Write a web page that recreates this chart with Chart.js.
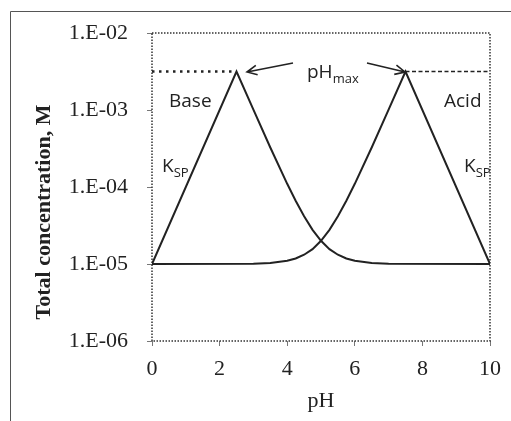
<!DOCTYPE html>
<html>
<head>
<meta charset="utf-8">
<script src="https://cdn.jsdelivr.net/npm/chart.js@4"></script>
<style>
  body { margin: 0; background: #fff; }
  canvas { display: block; }
</style>
</head>
<body>
<canvas id="myChart" width="511" height="421"></canvas>
<script>
// values
const basePH = [0, 2.5, 3, 3.5, 4, 4.25, 4.5, 4.75, 5, 5.25, 5.5, 5.75, 6, 6.5, 7, 10];
const baseConc = [1e-5, 3.16e-3, 1.01e-3, 3.26e-4, 1.1e-4, 6.62e-5, 4.16e-5, 2.78e-5, 2.0e-5, 1.56e-5, 1.32e-5, 1.18e-5, 1.1e-5, 1.03e-5, 1.01e-5, 1e-5];
const acidPH = [0, 3, 3.5, 4, 4.25, 4.5, 4.75, 5, 5.25, 5.5, 5.75, 6, 6.5, 7, 7.5, 10];
const acidConc = [1e-5, 1.01e-5, 1.03e-5, 1.1e-5, 1.18e-5, 1.32e-5, 1.56e-5, 2.0e-5, 2.78e-5, 4.16e-5, 6.62e-5, 1.1e-4, 3.26e-4, 1.01e-3, 3.16e-3, 1e-5];
const maxLeftPH = [0, 2.5];
const maxRightPH = [7.5, 10];
const maxConc = [3.16e-3, 3.16e-3];

const yTickValues = [1e-6, 1e-5, 1e-4, 1e-3, 1e-2];
const yTickLabels = ["1.E-06", "1.E-05", "1.E-04", "1.E-03", "1.E-02"];

const pts = (xs, ys) => xs.map((x, i) => ({ x: x, y: ys[i] }));

const ink = "#222";
const serif = "'Liberation Serif', 'Times New Roman', serif";
const sans = "'Open Sans', 'Liberation Sans', sans-serif";

// outer frame + dotted box round the plot area
const frame = {
  id: "frame",
  beforeDatasetsDraw(chart) {
    const c = chart.ctx, a = chart.chartArea;
    c.save();
    c.strokeStyle = "#555";
    c.lineWidth = 1;
    c.beginPath();
    c.moveTo(10.5, 421);
    c.lineTo(10.5, 11.5);
    c.lineTo(511, 11.5);
    c.stroke();
    c.strokeStyle = "#333";
    c.lineWidth = 1.5;
    c.setLineDash([1.5, 1.5]);
    c.strokeRect(a.left, a.top, a.right - a.left, a.bottom - a.top);
    c.restore();
  }
};

function arrow(c, x1, y1, x2, y2) {
  const ang = Math.atan2(y2 - y1, x2 - x1);
  const h = 11;
  c.beginPath();
  c.moveTo(x1, y1);
  c.lineTo(x2, y2);
  c.moveTo(x2 - h * Math.cos(ang - 0.45), y2 - h * Math.sin(ang - 0.45));
  c.lineTo(x2, y2);
  c.lineTo(x2 - h * Math.cos(ang + 0.45), y2 - h * Math.sin(ang + 0.45));
  c.stroke();
}

function subText(c, main, sub, x, y) {
  c.font = "19px " + sans;
  c.fillText(main, x, y);
  const w = c.measureText(main).width;
  c.font = "13px " + sans;
  c.fillText(sub, x + w, y + 5);
}

const notes = {
  id: "notes",
  afterDraw(chart) {
    const c = chart.ctx;
    c.save();
    c.fillStyle = ink;
    c.textBaseline = "alphabetic";
    c.font = "19px " + sans;
    c.fillText("Base", 169, 107);
    c.fillText("Acid", 444, 107);
    subText(c, "K", "SP", 162, 172);
    subText(c, "K", "SP", 464, 172);
    subText(c, "pH", "max", 307, 78);
    c.strokeStyle = ink;
    c.lineWidth = 1.6;
    arrow(c, 293, 63, 247, 72);
    arrow(c, 367, 63, 405, 72);
    // y axis title, set a little below the axis centre as in the original
    c.translate(50, 212);
    c.rotate(-Math.PI / 2);
    c.textAlign = "center";
    c.font = "bold 22px " + serif;
    c.fillText("Total concentration, M", 0, 0);
    c.restore();
  }
};

const ctx = document.getElementById("myChart");

new Chart(ctx, {
  type: "line",
  data: {
    datasets: [
      { data: pts(basePH, baseConc), borderColor: ink, borderWidth: 2 },
      { data: pts(acidPH, acidConc), borderColor: ink, borderWidth: 2 },
      { data: pts(maxLeftPH, maxConc), borderColor: ink, borderWidth: 2.5, borderDash: [2.5, 4.5] },
      { data: pts(maxRightPH, maxConc), borderColor: ink, borderWidth: 1.5, borderDash: [4, 2.5] }
    ]
  },
  options: {
    responsive: false,
    animation: false,
    events: [],
    layout: { padding: { left: 28, top: 33, right: 14, bottom: 6 } },
    elements: { point: { radius: 0 }, line: { tension: 0, fill: false } },
    plugins: { legend: { display: false }, tooltip: { enabled: false } },
    scales: {
      x: {
        type: "linear",
        min: 0,
        max: 10,
        afterFit: (s) => { s.height = 74; },
        ticks: { stepSize: 2, color: ink, padding: 10, font: { family: serif, size: 22 } },
        grid: { drawOnChartArea: false, tickLength: 5, tickColor: "#777" },
        border: { display: false },
        title: { display: true, text: "pH", color: ink, padding: { top: 0, bottom: 1 }, font: { family: serif, size: 22 } }
      },
      y: {
        type: "logarithmic",
        min: 1e-6,
        max: 1e-2,
        afterFit: (s) => { s.width = 124; },
        afterBuildTicks: (s) => { s.ticks = yTickValues.map((v) => ({ value: v })); },
        ticks: {
          color: ink,
          padding: 19,
          font: { family: serif, size: 22 },
          callback: (v, i) => yTickLabels[i]
        },
        grid: { drawOnChartArea: false, tickLength: 5, tickColor: "#777" },
        border: { display: false },
        title: { display: false }
      }
    }
  },
  plugins: [frame, notes]
});
</script>
</body>
</html>
